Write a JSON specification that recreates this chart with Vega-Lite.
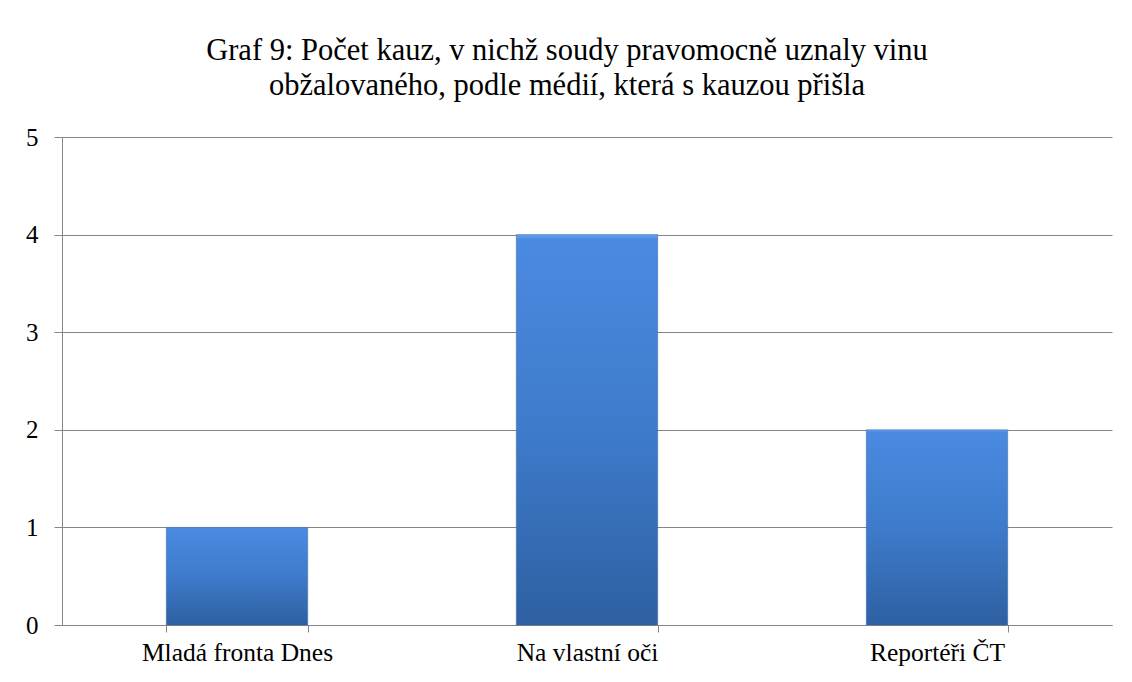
{
  "$schema": "https://vega.github.io/schema/vega-lite/v6.json",
  "autosize": {"type": "none"},
  "width": 1050,
  "height": 488,
  "padding": {"left": 62, "top": 137, "right": 20, "bottom": 57},
  "background": "white",
  "title": {
    "text": ["Graf 9: Počet kauz, v nichž soudy pravomocně uznaly vinu", "obžalovaného, podle médií, která s kauzou přišla"],
    "font": "Liberation Serif",
    "fontSize": 30.5,
    "fontWeight": "normal",
    "color": "#000000",
    "anchor": "middle",
    "lineHeight": 35,
    "baseline": "alphabetic",
    "dx": -20,
    "offset": 0
  },
  "data": {
    "values": [
      {"media": "Mladá fronta Dnes", "count": 1},
      {"media": "Na vlastní oči", "count": 4},
      {"media": "Reportéři ČT", "count": 2}
    ]
  },
  "mark": {
    "type": "bar",
    "fill": {
      "gradient": "linear",
      "x1": 0, "y1": 0, "x2": 0, "y2": 1,
      "stops": [
        {"offset": 0, "color": "#6aa6ee"},
        {"offset": 0.012, "color": "#4a8ae0"},
        {"offset": 0.5, "color": "#3e7bcb"},
        {"offset": 1, "color": "#2e60a2"}
      ]
    },
    "stroke": "#3566a8",
    "strokeWidth": 0.5
  },
  "encoding": {
    "x": {
      "field": "media",
      "type": "nominal",
      "sort": null,
      "scale": {"paddingInner": 0.596, "paddingOuter": 0.298},
      "axis": {
        "title": null,
        "labelAngle": 0,
        "labelFont": "Liberation Serif",
        "labelFontSize": 25.5,
        "labelColor": "#000000",
        "labelLimit": 400,
        "labelPadding": 8,
        "tickBand": "extent",
        "tickSize": 7,
        "tickColor": "#868686",
        "domainColor": "#868686",
        "grid": false
      }
    },
    "y": {
      "field": "count",
      "type": "quantitative",
      "scale": {"domain": [0, 5], "nice": false},
      "axis": {
        "title": null,
        "values": [0, 1, 2, 3, 4, 5],
        "format": "d",
        "labelFont": "Liberation Serif",
        "labelFontSize": 25,
        "labelColor": "#000000",
        "labelPadding": 16,
        "tickSize": 8,
        "tickColor": "#868686",
        "domainColor": "#868686",
        "gridColor": "#868686",
        "gridWidth": 1
      }
    }
  },
  "config": {
    "view": {"stroke": null},
    "font": "Liberation Serif",
    "axis": {"domainWidth": 1, "tickWidth": 1}
  }
}
